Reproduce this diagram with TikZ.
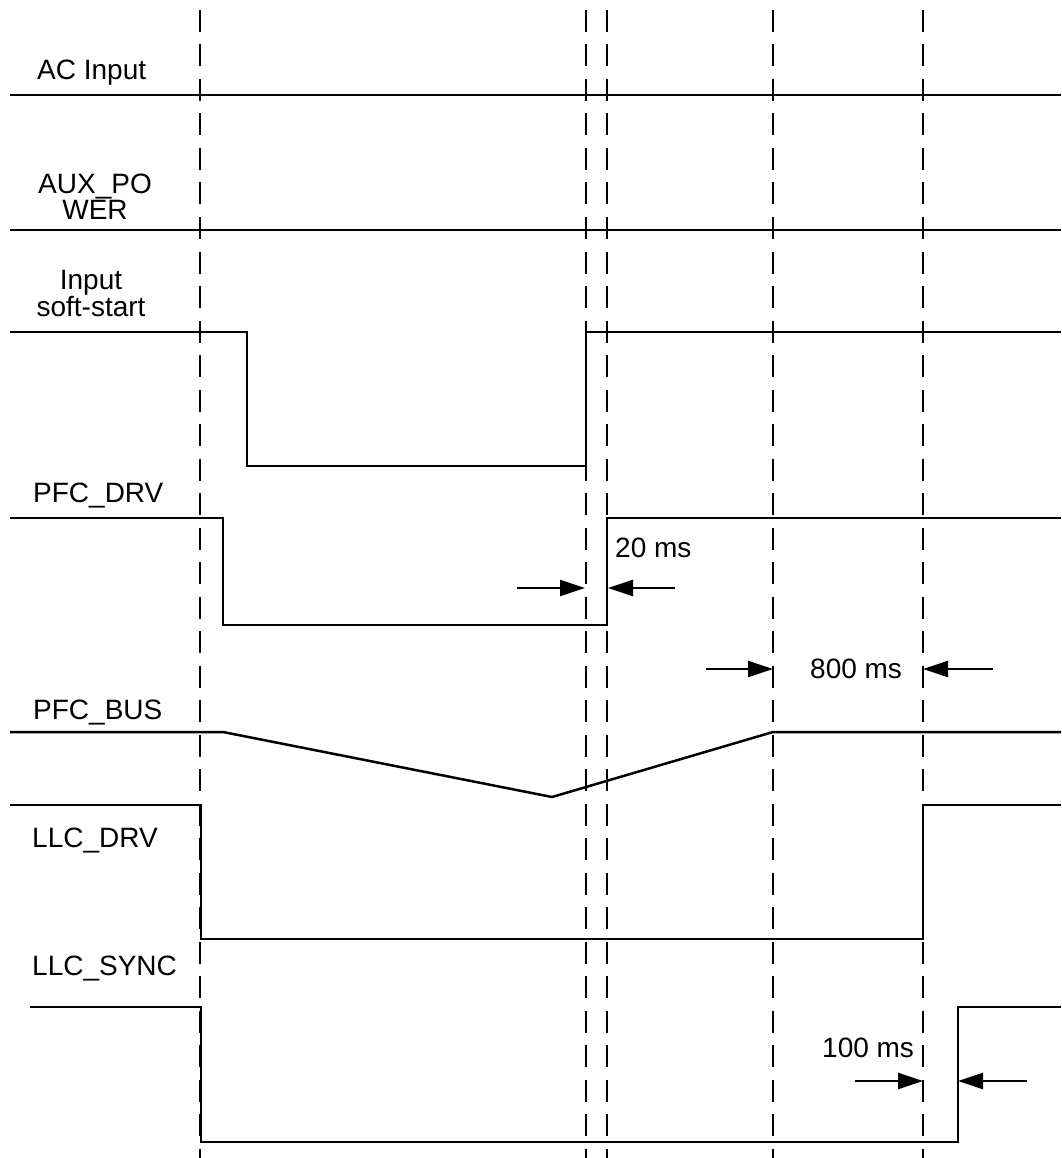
\documentclass[tikz,border=0pt]{standalone}
\usepackage{fontspec}
\setmainfont{Liberation Sans}
\usetikzlibrary{arrows.meta}
\begin{document}
\begin{tikzpicture}[x=1pt,y=-1pt,
  wave/.style={line width=2.5pt, line join=miter},
  guide/.style={line width=2.5pt, dash pattern=on 22pt off 12.5pt},
  lbl/.style={font=\fontsize{28}{26}\selectfont, inner sep=0pt, anchor=base west},
  lbl2/.style={font=\fontsize{28}{26.5}\selectfont, inner sep=0pt, align=center, anchor=base}]
\tikzset{dim/.style={line width=2.5pt, -{Triangle[length=25pt,width=16pt]}}}
\useasboundingbox (0,0) rectangle (1061,1158);
% guide lines
\foreach \x in {200,586,607,773,923} \draw[guide] (\x,10) -- (\x,1158);
% labels
\node[lbl] (ac) at (37,80) {AC Input};
\node[lbl2] (aux) at (95,220) {AUX\_PO\\WER};
\node[lbl2] (ss) at (91,316) {Input\\soft-start};
\node[lbl] (pfcdrv) at (33,502) {PFC\_DRV};
\node[lbl] (pfcbus) at (33,719) {PFC\_BUS};
\node[lbl] (llcdrv) at (32,847) {LLC\_DRV};
\node[lbl] (llcsync) at (32,975) {LLC\_SYNC};
\node[lbl] (t20) at (615,557) {20 ms};
\node[lbl] (t800) at (810,678) {800 ms};
\node[lbl] (t100) at (822,1057) {100 ms};
% waveforms
\draw[wave] (10,95) -- (1061,95);
\draw[wave] (10,230) -- (1061,230);
\draw[wave] (10,332) -- (247,332) -- (247,466) -- (586,466) -- (586,332) -- (1061,332);
\draw[wave] (10,518) -- (223,518) -- (223,625) -- (607,625) -- (607,518) -- (1061,518);
\draw[wave] (10,732) -- (223,732) -- (552,797) -- (773,732) -- (1061,732);
\draw[wave] (10,805) -- (201,805) -- (201,939) -- (923,939) -- (923,805) -- (1061,805);
\draw[wave] (30,1007) -- (201,1007) -- (201,1142) -- (958,1142) -- (958,1007) -- (1061,1007);
% dimension arrows
\coordinate (a20l) at (517,588); \coordinate (a20lt) at (585,588);
\coordinate (a20r) at (675,588); \coordinate (a20rt) at (608,588);
\coordinate (a800l) at (706,669); \coordinate (a800lt) at (773,669);
\coordinate (a800r) at (993,669); \coordinate (a800rt) at (923,669);
\coordinate (a100l) at (855,1081); \coordinate (a100lt) at (923,1081);
\coordinate (a100r) at (1027,1081); \coordinate (a100rt) at (958,1081);
\draw[dim] (a20l) -- (a20lt);
\draw[dim] (a20r) -- (a20rt);
\draw[dim] (a800l) -- (a800lt);
\draw[dim] (a800r) -- (a800rt);
\draw[dim] (a100l) -- (a100lt);
\draw[dim] (a100r) -- (a100rt);
\end{tikzpicture}
\end{document}
